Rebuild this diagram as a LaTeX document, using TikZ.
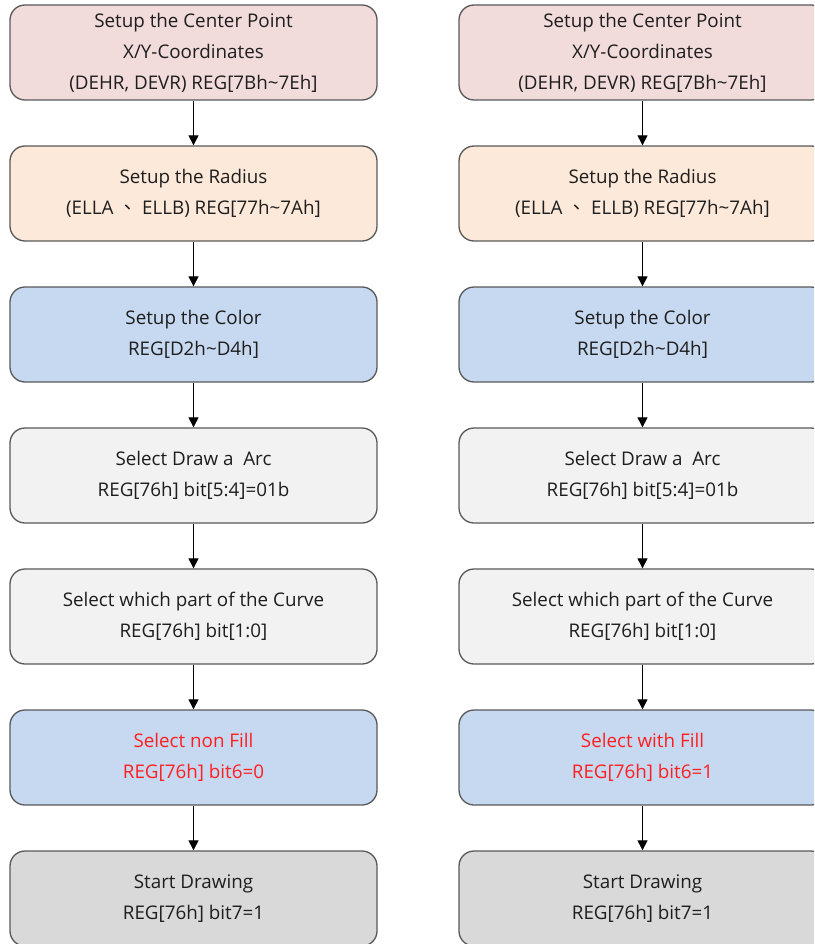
\documentclass[tikz,border=0pt]{standalone}
\usepackage{fontspec}
\setmainfont{Open Sans}
\newfontfamily\cjkfont{Noto Sans CJK TC}
\usetikzlibrary{arrows.meta}
\definecolor{cpink}{HTML}{F2DCDB}
\definecolor{cpeach}{HTML}{FDE9D9}
\definecolor{cblue}{HTML}{C6D9F1}
\definecolor{clight}{HTML}{F2F2F2}
\definecolor{cgray}{HTML}{D9D9D9}
\definecolor{cborder}{HTML}{595959}
\definecolor{ctext}{HTML}{1E1E1E}
\definecolor{cred}{HTML}{FF1F1F}
\tikzset{
  flowbox/.style={draw=cborder, line width=1.3pt, rounded corners=15pt,
    minimum width=367pt, minimum height=95pt, inner sep=0pt,
    align=center, text=ctext, font=\fontsize{18.8}{31}\selectfont},
  flowarrow/.style={line width=1pt, -{Triangle[width=10pt,length=10pt]}},
  redtext/.style={text=cred}
}
\begin{document}
\begin{tikzpicture}[x=1pt,y=-1pt]
\useasboundingbox (0,0) rectangle (814,944);
\clip (0,0) rectangle (814,944);
\fill[white] (0,0) rectangle (814,944);
\foreach \side/\cx in {L/193.5,R/642.5}{
  \node[flowbox, fill=cpink] (\side1) at (\cx,52.5) {Setup the Center Point\\X/Y-Coordinates\\(DEHR, DEVR) REG[7Bh\textasciitilde7Eh]};
  \node[flowbox, fill=cpeach] (\side2) at (\cx,193.5) {Setup the Radius\\(ELLA {\cjkfont 、} ELLB) REG[77h\textasciitilde7Ah]};
  \node[flowbox, fill=cblue] (\side3) at (\cx,334.5) {Setup the Color\\REG[D2h\textasciitilde D4h]};
  \node[flowbox, fill=clight] (\side4) at (\cx,475.5) {Select Draw a\ \ Arc\\REG[76h] bit[5:4]=01b};
  \node[flowbox, fill=clight] (\side5) at (\cx,616.5) {Select which part of the Curve\\REG[76h] bit[1:0]};
  \node[flowbox, fill=cgray] (\side7) at (\cx,898.5) {Start Drawing\\REG[76h] bit7=1};
}
\node[flowbox, fill=cblue, redtext] (L6) at (193.5,757.5) {Select non Fill\\REG[76h] bit6=0};
\node[flowbox, fill=cblue, redtext] (R6) at (642.5,757.5) {Select with Fill\\REG[76h] bit6=1};
\foreach \side in {L,R}{
  \draw[flowarrow] (\side1) -- (\side2);
  \draw[flowarrow] (\side2) -- (\side3);
  \draw[flowarrow] (\side3) -- (\side4);
  \draw[flowarrow] (\side4) -- (\side5);
  \draw[flowarrow] (\side5) -- (\side6);
  \draw[flowarrow] (\side6) -- (\side7);
}
\end{tikzpicture}
\end{document}
